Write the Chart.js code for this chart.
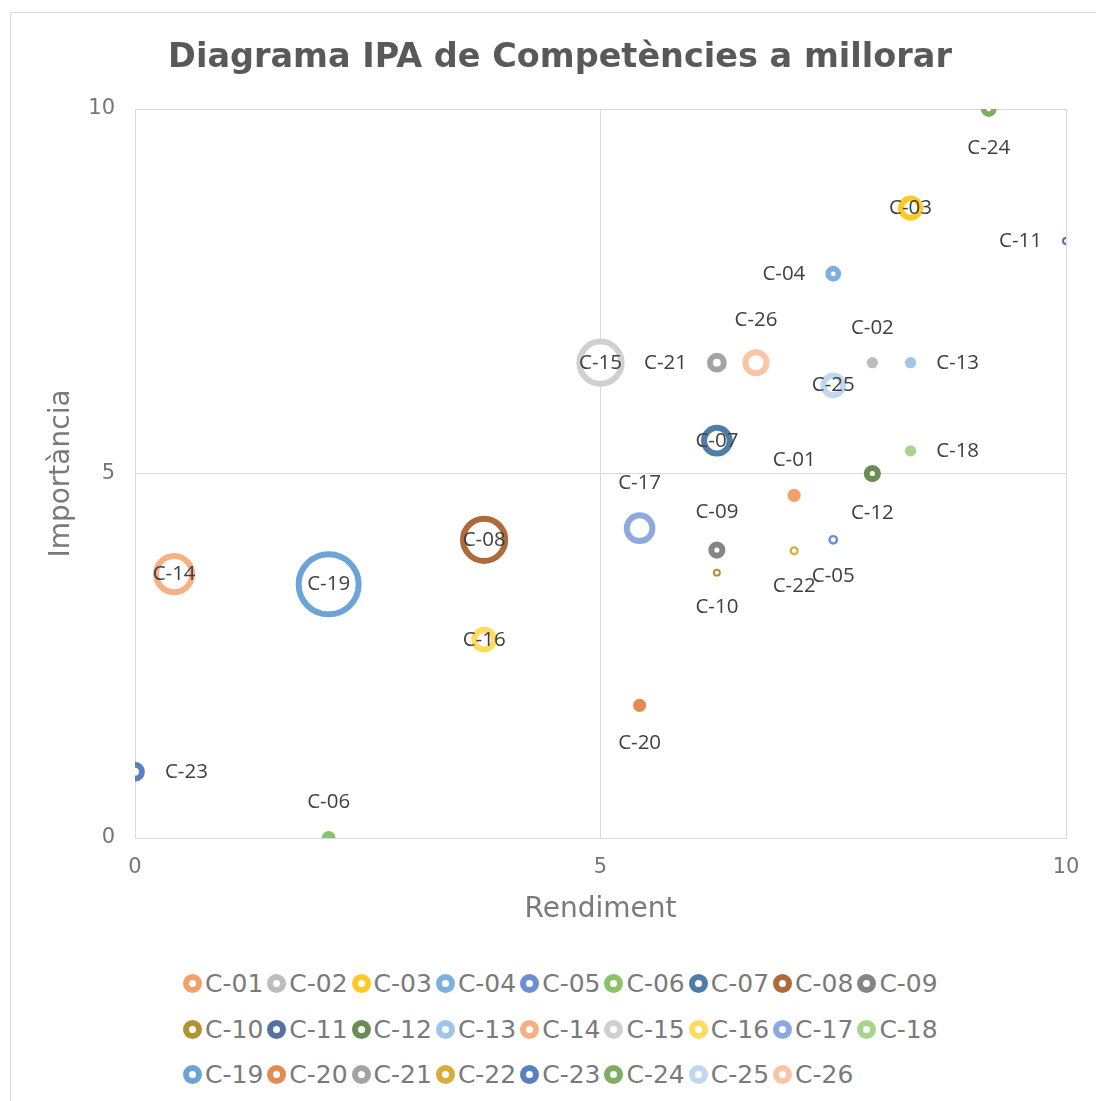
<!DOCTYPE html>
<html>
<head>
<meta charset="utf-8">
<script src="https://cdn.jsdelivr.net/npm/chart.js@4/dist/chart.umd.min.js"></script>
<style>
  html, body { margin: 0; padding: 0; background: #fff; overflow: hidden; }
  body { width: 1096px; height: 1101px; position: relative; }
  #marc { position: absolute; left: 10px; top: 12px; width: 1200px; height: 1200px; border: 1px solid #d9d9d9; }
  #grafic { position: absolute; left: 0; top: 0; }
  #llegenda {
    position: absolute; left: 183px; top: 961px;
    display: grid; grid-template-columns: repeat(9, 84.3px); grid-auto-rows: 45.5px;
    font-family: "DejaVu Sans", sans-serif; font-size: 25px; color: #7a7a7a;
  }
  #llegenda .item { display: flex; align-items: center; white-space: nowrap; }
  #llegenda .marca {
    width: 19px; height: 19px; box-sizing: border-box; border-radius: 50%;
    border: 6px solid; background: #fff; margin-right: 3px; flex: none;
  }
</style>
</head>
<body>
<div id="marc"></div>
<canvas id="grafic" width="1120" height="952"></canvas>
<div id="llegenda"></div>
<script>
// dades llegides del gràfic
const competencies = ["C-01", "C-02", "C-03", "C-04", "C-05", "C-06", "C-07", "C-08", "C-09", "C-10",
  "C-11", "C-12", "C-13", "C-14", "C-15", "C-16", "C-17", "C-18", "C-19", "C-20",
  "C-21", "C-22", "C-23", "C-24", "C-25", "C-26"];
const rendiment = [7.08, 7.92, 8.33, 7.50, 7.50, 2.08, 6.25, 3.75, 6.25, 6.25,
  10.00, 7.92, 8.33, 0.42, 5.00, 3.75, 5.42, 8.33, 2.08, 5.42,
  6.25, 7.08, 0.00, 9.17, 7.50, 6.67];
const importancia = [4.70, 6.52, 8.64, 7.74, 4.09, 0.00, 5.45, 4.09, 3.95, 3.64,
  8.19, 5.00, 6.52, 3.62, 6.52, 2.72, 4.25, 5.31, 3.48, 1.82,
  6.52, 3.94, 0.91, 10.00, 6.21, 6.52];
// mida de la bombolla
const mida = [2.0, 1.7, 3.8, 2.4, 1.5, 2.1, 4.8, 7.3, 2.6, 1.2,
  1.2, 2.6, 1.7, 6.4, 7.3, 3.9, 4.8, 1.7, 10.0, 2.0,
  3.0, 1.4, 3.0, 2.4, 3.9, 4.1];
const eixTicks = [0, 5, 10];

const colors = ["#F3A06B", "#BDBDBD", "#FFC926", "#7DB0E0", "#6C8FD4", "#8CC36A", "#4E7DA8", "#B06A3A",
  "#858585", "#B09433", "#5570A3", "#6B8C57", "#9FC5E8", "#F5B083", "#D0D0D0", "#FFDB62",
  "#8DA9DE", "#A9D48F", "#6CA4D8", "#E38B52", "#A3A3A3", "#D5AE3C", "#5B7FC3", "#7EAE62",
  "#BFD8F0", "#F8C6A5"];

// on va l'etiqueta de cada bombolla
const posicio = ["above", "above", "center", "left", "below", "above", "center", "center", "above", "below",
  "left", "below", "right", "center", "center", "center", "above", "right", "center", "below",
  "left", "below", "right", "below", "center", "above"];

const ESCALA = 3.3;

function radiExtern(i) {
  return mida[i] * ESCALA;
}

function gruix(R) {
  if (R <= 5) return R * 0.5;
  if (R <= 7) return R;
  return Math.min(6, R * 0.7);
}

const datasets = competencies.map((nom, i) => {
  const R = radiExtern(i);
  const t = gruix(R);
  return {
    label: nom,
    data: [{ x: rendiment[i], y: importancia[i], r: R - t / 2 }],
    borderColor: colors[i],
    backgroundColor: "#ffffff",
    borderWidth: t,
    hoverBorderWidth: t,
    clip: 0,
  };
});

const etiquetes = {
  id: "etiquetes",
  afterDatasetsDraw(chart) {
    const ctx = chart.ctx;
    ctx.save();
    ctx.font = '20.5px "Open Sans"';
    ctx.fillStyle = "#404040";
    ctx.textBaseline = "middle";
    chart.data.datasets.forEach((ds, i) => {
      const el = chart.getDatasetMeta(i).data[0];
      const R = radiExtern(i);
      let x = el.x, y = el.y;
      ctx.textAlign = "center";
      switch (posicio[i]) {
        case "above": y = el.y - R - 29; break;
        case "below": y = el.y + R + 31; break;
        case "left": x = el.x - R - 20; ctx.textAlign = "right"; break;
        case "right": x = el.x + R + 20; ctx.textAlign = "left"; break;
      }
      ctx.fillText(ds.label, x, y);
    });
    ctx.restore();
  },
};

const llegendaHtml = {
  id: "llegendaHtml",
  afterUpdate(chart) {
    const box = document.getElementById("llegenda");
    box.innerHTML = "";
    chart.data.datasets.forEach((ds) => {
      const item = document.createElement("div");
      item.className = "item";
      const marca = document.createElement("span");
      marca.className = "marca";
      marca.style.borderColor = ds.borderColor;
      const text = document.createElement("span");
      text.textContent = ds.label;
      item.appendChild(marca);
      item.appendChild(text);
      box.appendChild(item);
    });
  },
};

new Chart(document.getElementById("grafic"), {
  type: "bubble",
  data: { datasets: datasets },
  plugins: [etiquetes, llegendaHtml],
  options: {
    responsive: false,
    animation: false,
    layout: { padding: 0 },
    plugins: {
      legend: { display: false },
      tooltip: { enabled: false },
      title: {
        display: true,
        text: "Diagrama IPA de Competències a millorar",
        color: "#595959",
        font: { family: "DejaVu Sans", size: 33.5, weight: "bold" },
        padding: { top: 38, bottom: 30.8 },
      },
    },
    scales: {
      x: {
        min: 0,
        max: 10,
        afterFit: (scale) => { scale.height = 114; },
        afterBuildTicks: (scale) => { scale.ticks = eixTicks.map((v) => ({ value: v })); },
        grid: { color: "#d9d9d9", drawTicks: false },
        border: { color: "#d9d9d9" },
        ticks: {
          padding: 17,
          color: "#767676",
          font: { family: "DejaVu Sans", size: 21 },
        },
        title: {
          display: true,
          text: "Rendiment",
          color: "#7a7a7a",
          font: { family: "DejaVu Sans", size: 28 },
          padding: { top: 0, bottom: 25 },
        },
      },
      y: {
        min: 0,
        max: 10,
        afterFit: (scale) => { scale.width = 135; },
        afterBuildTicks: (scale) => { scale.ticks = eixTicks.map((v) => ({ value: v })); },
        grid: { color: "#d9d9d9", drawTicks: false },
        border: { color: "#d9d9d9" },
        ticks: {
          padding: 20,
          color: "#767676",
          font: { family: "DejaVu Sans", size: 21 },
        },
        title: {
          display: true,
          text: "Importància",
          color: "#7a7a7a",
          font: { family: "DejaVu Sans", size: 28 },
          padding: { top: 45, bottom: 0 },
        },
      },
      // espai buit a la dreta perquè el títol quedi centrat al marc
      marge: {
        type: "linear",
        position: "right",
        afterFit: (scale) => { scale.width = 54; },
        grid: { display: false },
        border: { display: false },
        ticks: { display: false },
      },
    },
  },
});
</script>
</body>
</html>
